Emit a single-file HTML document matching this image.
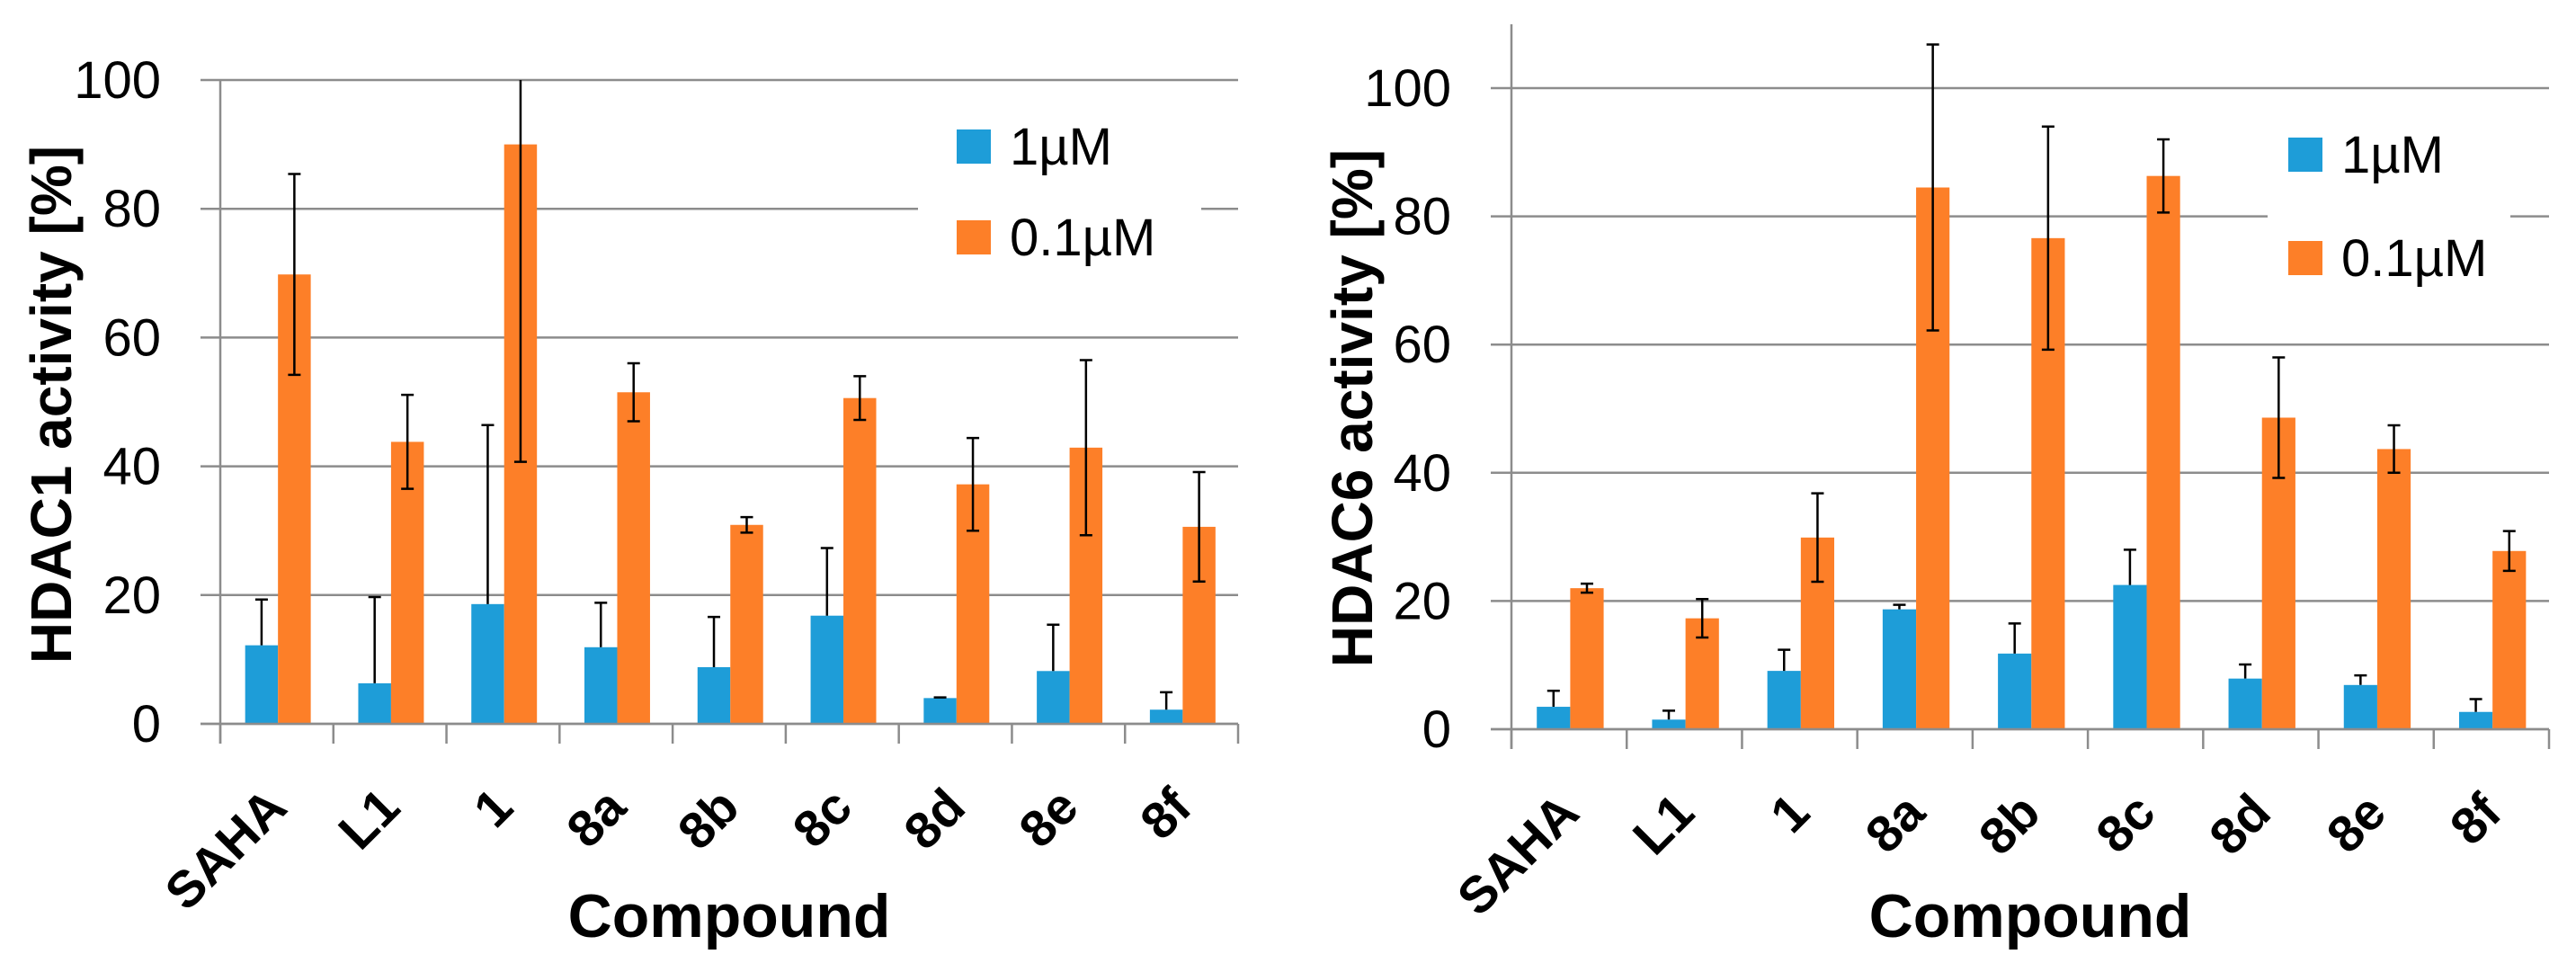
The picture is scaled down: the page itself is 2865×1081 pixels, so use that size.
<!DOCTYPE html>
<html><head><meta charset="utf-8"><style>
html,body{margin:0;padding:0;background:#fff;}
svg{display:block;}
text{font-family:"Liberation Sans",sans-serif;}
</style></head><body>
<svg id="s" width="2865" height="1081" viewBox="0 0 2865 1081" xmlns="http://www.w3.org/2000/svg"></svg>
<script>
const categories = ["SAHA","L1","1","8a","8b","8c","8d","8e","8f"];
const seriesNames = ["1µM","0.1µM"];
const yTicks = [0,20,40,60,80,100];
const hdac1Blue = [12.2,6.3,18.6,11.9,8.8,16.8,4.0,8.2,2.2];
const hdac1BlueErr = [7.1,13.4,27.8,6.9,7.8,10.5,0.1,7.2,2.7];
const hdac1Orange = [69.8,43.8,90.0,51.5,30.9,50.6,37.2,42.9,30.6];
const hdac1OrangeErr = [15.6,7.3,49.3,4.5,1.2,3.4,7.2,13.6,8.5];
const hdac6Blue = [3.5,1.5,9.1,18.7,11.8,22.5,7.9,6.9,2.7];
const hdac6BlueErr = [2.5,1.4,3.3,0.7,4.7,5.5,2.2,1.5,2.0];
const hdac6Orange = [22.0,17.3,29.9,84.5,76.6,86.3,48.6,43.7,27.8];
const hdac6OrangeErr = [0.7,3.0,6.9,22.3,17.4,5.7,9.4,3.7,3.1];

const NS="http://www.w3.org/2000/svg";
const svg=document.getElementById('s');
function mk(tag,attrs,parent){const e=document.createElementNS(NS,tag);for(const k in attrs)e.setAttribute(k,attrs[k]);(parent||svg).appendChild(e);return e;}

function chart(cfg){
  const g=mk('g',{});
  
  
  const x0=cfg.x0,x1=cfg.x1,y0=cfg.y0,yTop=cfg.y100;
  const yScale=v=>y0-(v/100)*(y0-yTop);
  const cw=(x1-x0)/categories.length;
  const xCat=i=>x0+i*cw;
  yTicks.forEach(t=>{
    const y=yScale(t);
    const l=mk('line',{x1:cfg.gx,x2:x1,y1:y,y2:y,stroke:'#8c8c8c','stroke-width':2.5},g);
    
    
    const tx=mk('text',{x:cfg.labelRight,y:y+20,'text-anchor':'end','font-size':58,fill:'#000'},g);
    tx.textContent=t;
    
    
  });
  const ya=mk('line',{x1:x0,x2:x0,y1:cfg.axisTop,y2:y0+22,stroke:'#8c8c8c','stroke-width':2.5},g);
  
  
  for(let i=0;i<=categories.length;i++){
    const x=xCat(i);
    const t=mk('line',{x1:x,x2:x,y1:y0,y2:y0+22,stroke:'#8c8c8c','stroke-width':2.5},g);
    
    
  }
  const lb=mk('rect',{x:cfg.legX,y:cfg.legY,width:cfg.legW,height:190,fill:'#fff'},g);
  
  
  const bw=cw*0.29, off=cw*0.22;
  categories.forEach((c,i)=>{
    const xb=xCat(i)+off, xo=xb+bw;
    const vb=cfg.blue[i], vo=cfg.orange[i];
    const rb=mk('rect',{x:xb,y:yScale(vb),width:bw,height:y0-yScale(vb),fill:'#1e9dd8'},g);
    
    
    const ro=mk('rect',{x:xo,y:yScale(vo),width:bw,height:y0-yScale(vo),fill:'#fd7f28'},g);
    
    
    const cb=xb+bw/2, eb=cfg.blueErr[i];
    const e1=mk('path',{d:`M${cb},${yScale(vb)} V${yScale(vb+eb)} M${cb-7},${yScale(vb+eb)} H${cb+7}`,stroke:'#000','stroke-width':2.5,fill:'none'},g);
    
    
    const co=xo+bw/2, eo=cfg.orangeErr[i];
    const hi=Math.min(vo+eo,cfg.clip), lo=vo-eo;
    let d=`M${co},${yScale(hi)} V${yScale(lo)} M${co-7},${yScale(lo)} H${co+7}`;
    if(vo+eo<=cfg.clip) d+=` M${co-7},${yScale(hi)} H${co+7}`;
    const e2=mk('path',{d:d,stroke:'#000','stroke-width':2.5,fill:'none'},g);
    
    
    const lx=xCat(i)+cw/2+14, ly=y0+96;
    const lt=mk('text',{x:lx,y:ly,'text-anchor':'end','font-size':57,'font-weight':'bold',transform:`rotate(-45 ${lx} ${ly})`},g);
    lt.textContent=c;
    
    
  });
  const xa=mk('line',{x1:cfg.gx,x2:x1,y1:y0,y2:y0,stroke:'#8c8c8c','stroke-width':2.5},g);
  
  
  const cols=['#1e9dd8','#fd7f28'];
  seriesNames.forEach((n,k)=>{
    const sy=cfg.sqY[k];
    const sq=mk('rect',{x:cfg.sqX,y:sy,width:38,height:38,fill:cols[k]},g);
    
    
    const t=mk('text',{x:cfg.sqX+59,y:sy+39,'font-size':58,fill:'#000'},g);
    t.textContent=n;
    
    
  });
  const yt=mk('text',{x:cfg.ytX,y:cfg.ytY,'text-anchor':'middle','font-size':64,'font-weight':'bold',transform:`rotate(-90 ${cfg.ytX} ${cfg.ytY})`},g);
  yt.textContent=cfg.ytitle;
  
  
  const xt=mk('text',{x:(x0+x1)/2,y:1042,'text-anchor':'middle','font-size':68,'font-weight':'bold'},g);
  xt.textContent='Compound';
  
  
}

chart({name:'hdac1-chart',x0:245,x1:1377,y0:805,y100:89,gx:223,axisTop:89,clip:100,labelRight:179,
  blue:hdac1Blue,blueErr:hdac1BlueErr,orange:hdac1Orange,orangeErr:hdac1OrangeErr,
  legX:1021,legY:112,legW:315,sqX:1064,sqY:[144,245],ytX:79,ytY:450,ytitle:'HDAC1 activity [%]'});
chart({name:'hdac6-chart',x0:1681,x1:2835,y0:811,y100:98,gx:1658,axisTop:27,clip:200,labelRight:1614,
  blue:hdac6Blue,blueErr:hdac6BlueErr,orange:hdac6Orange,orangeErr:hdac6OrangeErr,
  legX:2522,legY:125,legW:270,sqX:2545,sqY:[153,268],ytX:1526,ytY:454,ytitle:'HDAC6 activity [%]'});
</script>
</body></html>
